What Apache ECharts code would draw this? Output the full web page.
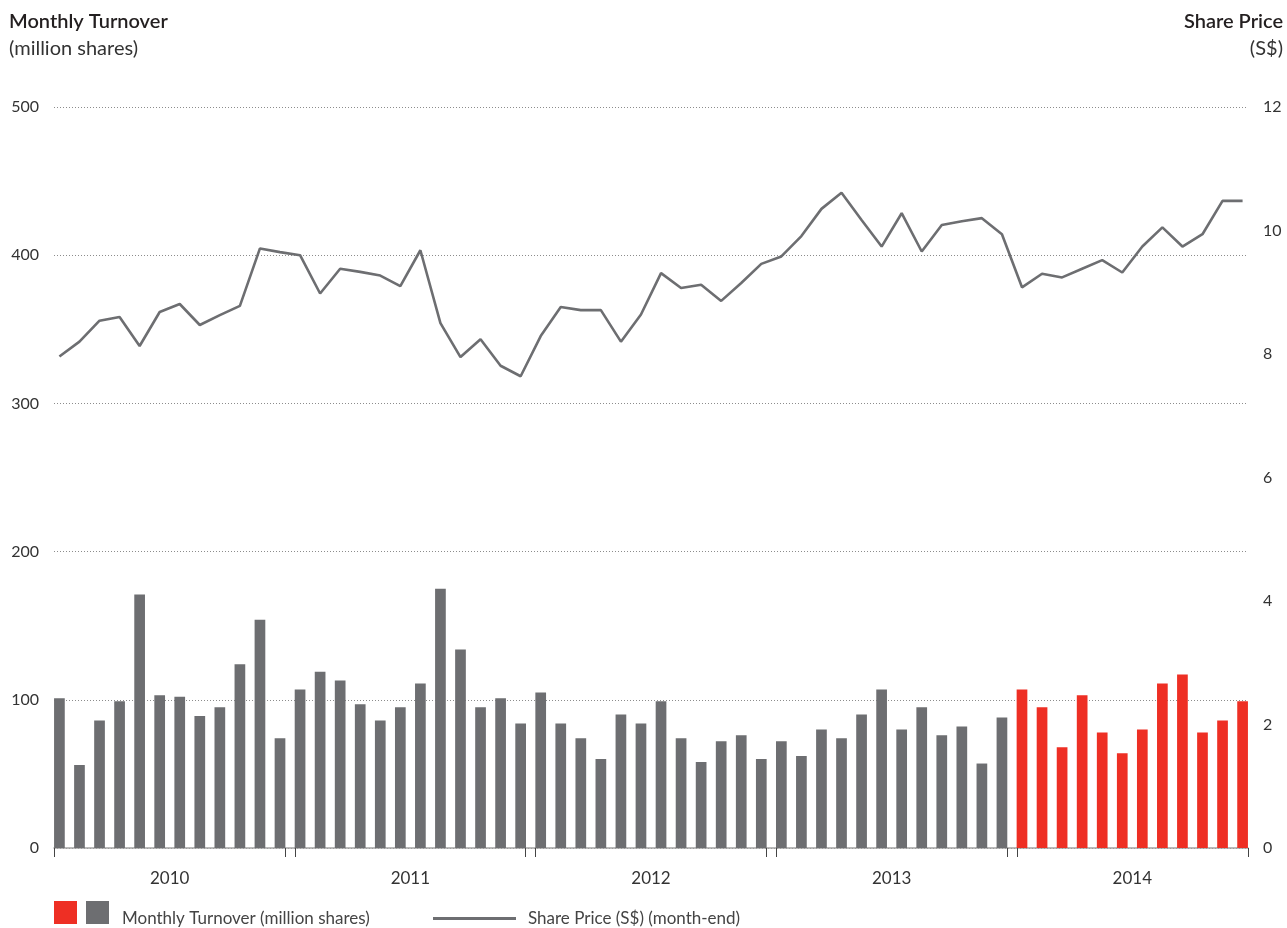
<!DOCTYPE html>
<html>
<head>
<meta charset="utf-8">
<script src="https://cdn.jsdelivr.net/npm/echarts@6/dist/echarts.min.js"></script>
<style>
  html, body { margin: 0; padding: 0; background: #ffffff; }
  #chart { width: 1287px; height: 928px; }
</style>
</head>
<body>
<div id="chart"></div>
<script>
// ---- data ----
const years = ['2010', '2011', '2012', '2013', '2014'];
const monthNames = ['Jan', 'Feb', 'Mar', 'Apr', 'May', 'Jun', 'Jul', 'Aug', 'Sep', 'Oct', 'Nov', 'Dec'];
const highlightYear = '2014';

// Monthly turnover (million shares)
const turnover2010 = [101, 56, 86, 99, 171, 103, 102, 89, 95, 124, 154, 74];
const turnover2011 = [107, 119, 113, 97, 86, 95, 111, 175, 134, 95, 101, 84];
const turnover2012 = [105, 84, 74, 60, 90, 84, 99, 74, 58, 72, 76, 60];
const turnover2013 = [72, 62, 80, 74, 90, 107, 80, 95, 76, 82, 57, 88];
const turnover2014 = [107, 95, 68, 103, 78, 64, 80, 111, 117, 78, 86, 99];

// Month-end share price (S$)
const price2010 = [7.96, 8.20, 8.54, 8.60, 8.13, 8.68, 8.81, 8.47, 8.63, 8.78, 9.71, 9.65];
const price2011 = [9.60, 8.98, 9.38, 9.33, 9.27, 9.10, 9.68, 8.50, 7.95, 8.24, 7.81, 7.64];
const price2012 = [8.29, 8.76, 8.71, 8.71, 8.20, 8.64, 9.31, 9.07, 9.12, 8.86, 9.15, 9.46];
const price2013 = [9.58, 9.91, 10.35, 10.61, 10.17, 9.74, 10.28, 9.66, 10.09, 10.15, 10.20, 9.94];
const price2014 = [9.08, 9.30, 9.24, 9.38, 9.52, 9.32, 9.74, 10.05, 9.74, 9.94, 10.48, 10.48];

const leftTicks = [0, 100, 200, 300, 400, 500];
const rightTicks = [0, 2, 4, 6, 8, 10, 12];

// ---- derived ----
const categories = [];
years.forEach(y => monthNames.forEach(m => categories.push(m + ' ' + y)));
const turnover = [].concat(turnover2010, turnover2011, turnover2012, turnover2013, turnover2014);
const price = [].concat(price2010, price2011, price2012, price2013, price2014);

const n = categories.length;
const halfBar = 0.27; // half bar width in month units
const grayBars = [], redBars = [], priceLine = [];
turnover.forEach((v, i) => {
  const isHi = categories[i].endsWith(highlightYear);
  (isHi ? redBars : grayBars).push([i, v]);
});
price.forEach((v, i) => priceLine.push([i, v]));

const tickVals = [-halfBar];
for (let k = 1; k < years.length; k++) {
  tickVals.push(12 * k - 0.75, 12 * k - 0.25);
}
tickVals.push(n - 1 + halfBar);
const labelVals = years.map((y, k) => 12 * k + 5.5);

const FONT = 'Lato';
const chart = echarts.init(document.getElementById('chart'), null, { renderer: 'canvas' });
const option = {
  animation: false,
  backgroundColor: '#ffffff',
  textStyle: { fontFamily: FONT },
  title: [
    {
      text: 'Monthly Turnover', subtext: '(million shares)',
      left: 9, top: 8, padding: 0, itemGap: 0,
      textStyle: { fontFamily: FONT, fontSize: 20, fontWeight: 600, color: '#231f20', lineHeight: 27 },
      subtextStyle: { fontFamily: FONT, fontSize: 20, color: '#333333', lineHeight: 27 }
    },
    {
      text: 'Share Price', subtext: '(S$)',
      left: 'right', top: 8, padding: [0, 4, 0, 0], itemGap: 0,
      textStyle: { fontFamily: FONT, fontSize: 20, fontWeight: 600, color: '#231f20', lineHeight: 27 },
      subtextStyle: { fontFamily: FONT, fontSize: 20, color: '#333333', lineHeight: 27 }
    }
  ],
  legend: [
    {
      left: 54, top: 901, itemWidth: 23, itemHeight: 23, itemGap: 9, icon: 'rect',
      selectedMode: false, padding: 0,
      data: [
        { name: 'Monthly Turnover 2014' },
        { name: 'Monthly Turnover (million shares)' }
      ],
      formatter: name => (name === 'Monthly Turnover 2014' ? '' : '{t|' + name + '}'),
      textStyle: {
        fontFamily: FONT, fontSize: 17, color: '#444444',
        rich: { t: { fontFamily: FONT, fontSize: 17, color: '#444444', padding: [12, 0, 0, 8] } }
      }
    },
    {
      left: 433, top: 910, itemWidth: 83, itemHeight: 3, icon: 'rect', selectedMode: false, padding: 0,
      data: [{ name: 'Share Price (S$) (month-end)' }],
      textStyle: { fontFamily: FONT, fontSize: 17, color: '#444444', padding: [0, 0, 3, 7] }
    }
  ],
  grid: { left: 54, right: 39, top: 107, bottom: 80 },
  xAxis: {
    type: 'value',
    min: -halfBar,
    max: n - 1 + halfBar,
    splitLine: { show: false },
    axisLine: { show: true, onZero: false, lineStyle: { color: '#a3a3a3', width: 1.5 } },
    axisTick: { show: true, customValues: tickVals, length: 9, lineStyle: { color: '#444444', width: 1 } },
    axisLabel: {
      customValues: labelVals,
      formatter: v => years[Math.floor(v / 12)],
      margin: 22, fontSize: 17, color: '#333333', fontFamily: FONT
    }
  },
  yAxis: [
    {
      type: 'value', position: 'left',
      min: leftTicks[0], max: leftTicks[leftTicks.length - 1], interval: leftTicks[1] - leftTicks[0],
      axisLine: { show: false }, axisTick: { show: false },
      axisLabel: { fontSize: 16, color: '#333333', margin: 15, fontFamily: FONT },
      splitLine: { show: true, lineStyle: { type: [1, 2], color: '#8c8c8c', width: 1 } }
    },
    {
      type: 'value', position: 'right',
      min: rightTicks[0], max: rightTicks[rightTicks.length - 1], interval: rightTicks[1] - rightTicks[0],
      axisLine: { show: false }, axisTick: { show: false },
      axisLabel: { fontSize: 16, color: '#333333', margin: 15, fontFamily: FONT },
      splitLine: { show: false }
    }
  ],
  series: [
    {
      name: 'Monthly Turnover (million shares)', type: 'bar',
      data: grayBars, barWidth: 10.7, barGap: '-100%',
      itemStyle: { color: '#6d6e71' }
    },
    {
      name: 'Monthly Turnover 2014', type: 'bar',
      data: redBars, barWidth: 10.7, barGap: '-100%',
      itemStyle: { color: '#ee2f24' }
    },
    {
      name: 'Share Price (S$) (month-end)', type: 'line', yAxisIndex: 1,
      data: priceLine, symbol: 'none', showSymbol: false,
      lineStyle: { color: '#6d6e71', width: 2.6 },
      itemStyle: { color: '#6d6e71' }, z: 5
    }
  ]
};
chart.setOption(option);
</script>
</body>
</html>
